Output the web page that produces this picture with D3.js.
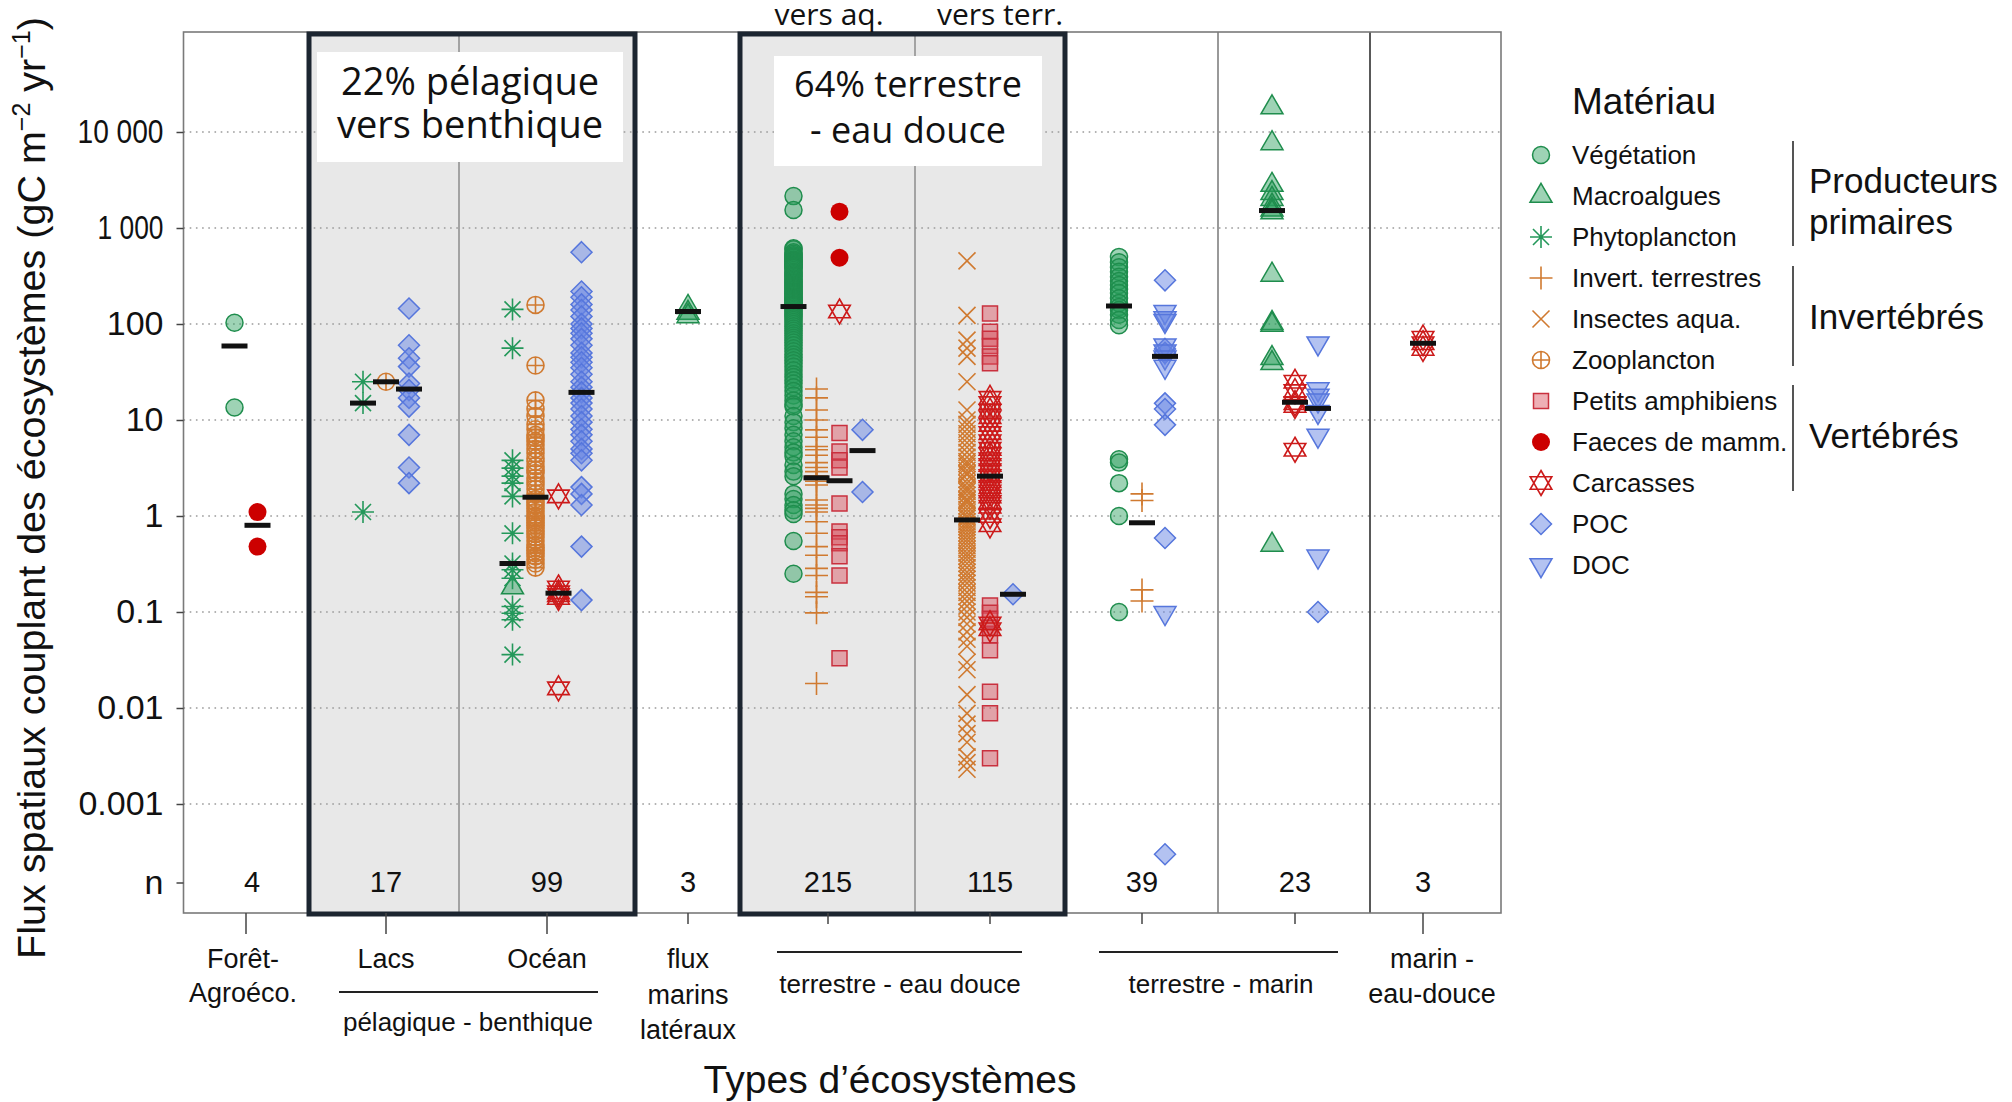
<!DOCTYPE html>
<html><head><meta charset="utf-8">
<script src="https://cdn.jsdelivr.net/npm/d3@7"></script>
<style>body{margin:0;background:#fff;} svg{display:block;}</style>
</head><body>
<svg id="chart" width="2012" height="1102"></svg>
<script>
// ---------------- DATA ----------------
const categories = ["Forêt-Agroéco.", "Lacs", "Océan", "flux marins latéraux", "vers aq.", "vers terr.", "terrestre-marin A", "terrestre-marin B", "marin - eau-douce"];
const nCounts = [4, 17, 99, 3, 215, 115, 39, 23, 3];
const yTickValues = [10000, 1000, 100, 10, 1, 0.1, 0.01, 0.001];
const yTickLabels = ["10 000", "1 000", "100", "10", "1", "0.1", "0.01", "0.001"];

// values per category (same order as categories)
const vegetation = [
  [103, 13.5], [], [], [],
  [2150, 1540, 615, 600, 560, 540, 520, 505, 490, 470, 460, 450, 440, 430, 420, 410, 402, 395, 388, 380, 365, 350, 340, 330, 320, 310, 300, 290, 280, 272, 265, 258, 250, 244, 238, 232, 226, 220, 215, 210, 205, 200, 195, 190, 186, 182, 178, 174, 170, 166, 162, 158, 155,
   150, 145, 140, 135, 130, 125, 120, 115, 110, 105, 100, 95, 90, 85, 80, 76, 72, 68, 64, 60, 56, 52, 48, 45, 42, 39, 36, 33, 30, 28, 26, 24, 22, 20, 18, 16, 14.5, 13.8, 11, 9.5, 8.2, 7, 6, 5.2, 4.6, 4.2, 3.4, 2.9, 2.6, 1.7, 1.5, 1.3, 1.15, 1.05, 0.55, 0.25],
  [],
  [500, 440, 390, 350, 310, 280, 255, 230, 210, 185, 165, 150, 140, 125, 110, 97, 3.9, 3.6, 2.2, 1.0, 0.1],
  [], []
];
const macroalgues = [
  [], [], [0.18], [150, 130, 120], [], [], [],
  [18000, 7600, 2800, 2300, 2000, 1700, 1550, 1450, 325, 102, 98, 44, 39, 0.5],
  []
];
const phytoplancton = [
  [], [25, 15, 1.1],
  [142, 56, 3.8, 3.15, 2.6, 2.2, 1.6, 0.66, 0.32, 0.275, 0.225, 0.114, 0.097, 0.083, 0.036],
  [], [], [], [], [], []
];
const invertTerrestres = [
  [], [], [], [],
  [21, 17, 12.7, 10, 7.9, 6.6, 5.3, 4.9, 4.3, 3.6, 3.2, 2.9, 2.6, 2.5, 2.3, 2.1, 1.47, 1.3, 1.2, 1.1, 0.87, 0.66, 0.48, 0.39, 0.285, 0.24, 0.16, 0.144, 0.098, 0.018],
  [], [1.7, 1.45, 0.17, 0.13], [], []
];
const insectesAqua = [
  [], [], [], [], [],
  [455, 123, 68, 56, 46, 25, 12.7, 10, 9, 8, 7.2, 6.5, 5.8, 5.2, 4.6, 4.1, 3.7, 3.5, 3.3, 3.0, 2.8, 2.7, 2.4, 2.2, 2.0, 1.9, 1.8, 1.65, 1.5, 1.45, 1.38, 1.27, 1.17, 1.08, 1.0, 0.95,
   0.87, 0.82, 0.77, 0.72, 0.67, 0.62, 0.57, 0.53, 0.49, 0.45, 0.41, 0.38, 0.35, 0.32, 0.29, 0.26, 0.24, 0.22, 0.2, 0.18, 0.16, 0.145, 0.13, 0.115, 0.1, 0.088, 0.075, 0.062, 0.052, 0.044, 0.030, 0.025, 0.0138, 0.0088, 0.0068, 0.0054, 0.0044, 0.0031, 0.0027, 0.0023],
  [], [], []
];
const zooplancton = [
  [], [25],
  [158, 37, 16, 13, 11, 9, 8, 7, 6.5, 6, 5.5, 5, 4.5, 4, 3.7, 3.3, 3, 2.8, 2.5, 2.3, 2.1, 1.9, 1.7, 1.5, 1.4, 1.3, 1.2, 1.1, 1.0, 0.95, 0.9, 0.85, 0.8, 0.75, 0.7, 0.65, 0.6, 0.55, 0.5, 0.47, 0.44, 0.41, 0.38, 0.35, 0.32, 0.29],
  [], [], [], [], [], []
];
const petitsAmphibiens = [
  [], [], [], [],
  [7.3, 4.7, 3.8, 3.2, 1.35, 0.69, 0.6, 0.52, 0.38, 0.24, 0.033],
  [129, 83, 70, 59, 46, 39, 0.117, 0.098, 0.085, 0.068, 0.057, 0.040, 0.0148, 0.0088, 0.003],
  [], [], []
];
const faeces = [
  [1.1, 0.48], [], [], [], [1480, 490], [], [], [], []
];
const carcasses = [
  [], [], [1.6, 0.18, 0.16, 0.15, 0.14, 0.016], [], [135],
  [17, 15, 12.5, 10.7, 8.9, 7.3, 6, 5, 4.4, 3.9, 3.4, 3.0, 2.6, 2.3, 2.0, 1.8, 1.6, 1.4, 1.25, 1.0, 0.8, 0.076, 0.066],
  [], [25, 20, 15, 14, 4.9], [72, 63, 55]
];
const poc = [
  [], [145, 60, 44, 36, 24, 20.5, 17, 13.8, 7, 3.2, 2.2],
  [560, 218, 190, 160, 140, 120, 100, 90, 80, 70, 60, 50, 45, 40, 35, 30, 25, 22, 19.4, 17, 15, 13, 11, 9.5, 8, 7, 6, 5, 4.5, 3.8, 2.0, 1.7, 1.3, 0.48, 0.133],
  [], [7.9, 1.78], [0.153],
  [285, 55, 50, 14.9, 13, 8.9, 0.59, 0.0003],
  [0.1], []
];
const doc = [
  [], [], [], [], [], [],
  [134, 115, 108, 60, 52, 45, 36, 0.098],
  [63, 21, 18, 16, 12.2, 6.9, 0.38], []
];
// medians per category: [producteurs, invertébrés, vertébrés, carbone (POC/DOC)]
const medians = [
  [59, null, 0.8, null],
  [15, 25, null, 21],
  [0.32, 1.57, 0.157, 19.4],
  [135, null, null, null],
  [152, 2.5, 2.33, 4.8],
  [null, 0.91, 2.6, 0.153],
  [154, 0.85, null, 46],
  [1520, null, 15.3, 13.2],
  [null, null, 63, null]
];

// ---------------- LAYOUT ----------------
const svg = d3.select("#chart");
const W = 2012, H = 1102;
const plot = {left: 183.5, right: 1501, top: 32, bottom: 913};
const colEdges = [183.5, 309, 459, 635, 740, 915, 1065, 1218, 1370, 1501];
const catCenters = [246, 386, 547, 688, 828, 990, 1142, 1295, 1423];
const nLabelShift = [6, 0, 0, 0, 0, 0, 0, 0, 0];
const sans = "'Liberation Sans', Arial, Helvetica, sans-serif";
const open = "'Open Sans', 'Noto Sans', sans-serif";

const x = d3.scaleOrdinal().domain(categories).range(catCenters);
const y = d3.scaleLog().domain([1e-3, 1e4]).range([804, 132]);
const slotGap = 23;

const GREEN = "#1f8d4d", GREEN_FILL = "rgba(40,158,92,0.45)";
const ORANGE = "#d07a30";
const RED_SQ = "#c9303e", RED_SQ_FILL = "rgba(218,78,92,0.45)";
const RED = "#cc0000", RED_C = "#cc1a1a";
const BLUE = "#5676dc", BLUE_FILL = "rgba(104,134,228,0.5)";

// symbol path generators
const sym = {
  circle: r => `M${r},0A${r},${r} 0 1,1 ${-r},0A${r},${r} 0 1,1 ${r},0Z`,
  triUp: () => "M0,-12.7L11,6.3L-11,6.3Z",
  triDown: () => "M0,12.7L11,-6.3L-11,-6.3Z",
  diamond: () => "M0,-10.5L10.5,0L0,10.5L-10.5,0Z",
  square: () => "M-7.5,-7.5H7.5V7.5H-7.5Z",
  asterisk: () => "M-11,0H11M0,-11V11M-8,-8L8,8M-8,8L8,-8",
  plus: () => "M-11.5,0H11.5M0,-11.5V11.5",
  times: () => "M-8.5,-8.5L8.5,8.5M-8.5,8.5L8.5,-8.5",
  oplus: () => "M8.5,0A8.5,8.5 0 1,1 -8.5,0A8.5,8.5 0 1,1 8.5,0ZM-8.5,0H8.5M0,-8.5V8.5",
  hexagram: () => "M0,-12.5L10.8,6.25L-10.8,6.25ZM0,12.5L10.8,-6.25L-10.8,-6.25Z"
};

const materials = [
  {label: "Végétation", group: 0, values: vegetation, d: sym.circle(8.5), fill: GREEN_FILL, stroke: GREEN, sw: 1.5},
  {label: "Macroalgues", group: 0, values: macroalgues, d: sym.triUp(), fill: GREEN_FILL, stroke: GREEN, sw: 1.5},
  {label: "Phytoplancton", group: 0, values: phytoplancton, d: sym.asterisk(), fill: "none", stroke: "#24985a", sw: 1.6},
  {label: "Invert. terrestres", group: 1, values: invertTerrestres, d: sym.plus(), fill: "none", stroke: ORANGE, sw: 1.6},
  {label: "Insectes aqua.", group: 1, values: insectesAqua, d: sym.times(), fill: "none", stroke: ORANGE, sw: 1.6},
  {label: "Zooplancton", group: 1, values: zooplancton, d: sym.oplus(), fill: "none", stroke: ORANGE, sw: 1.6},
  {label: "Petits amphibiens", group: 2, values: petitsAmphibiens, d: sym.square(), fill: RED_SQ_FILL, stroke: RED_SQ, sw: 1.5},
  {label: "Faeces de mamm.", group: 2, values: faeces, d: sym.circle(9), fill: RED, stroke: "none", sw: 0},
  {label: "Carcasses", group: 2, values: carcasses, d: sym.hexagram(), fill: "none", stroke: RED_C, sw: 1.6},
  {label: "POC", group: 3, values: poc, d: sym.diamond(), fill: BLUE_FILL, stroke: BLUE, sw: 1.5},
  {label: "DOC", group: 3, values: doc, d: sym.triDown(), fill: BLUE_FILL, stroke: BLUE, sw: 1.5}
];

// groups present in each category (for horizontal dodge)
const groupsPresent = categories.map((c, ci) => {
  const s = new Set();
  materials.forEach(m => { if (m.values[ci].length) s.add(m.group); });
  medians[ci].forEach((v, g) => { if (v != null) s.add(g); });
  return Array.from(s).sort();
});
function xPos(ci, g) {
  const gs = groupsPresent[ci];
  const k = gs.length, idx = gs.indexOf(g);
  return x(categories[ci]) + (idx - (k - 1) / 2) * slotGap;
}

// multi-line text helper (one text element, tspans)
function multiText(parent, xx, baselines, lines, font, size, anchor) {
  const t = parent.append("text").attr("text-anchor", anchor || "middle")
    .attr("font-family", font).attr("font-size", size).attr("fill", "#111");
  lines.forEach((s, i) => t.append("tspan").attr("x", xx).attr("y", baselines[i]).text(s));
  return t;
}

// ---------------- BACKGROUND ----------------
svg.append("rect").attr("x", 0).attr("y", 0).attr("width", W).attr("height", H).attr("fill", "#fff");

const boxes = [[colEdges[1], colEdges[3]], [colEdges[4], colEdges[6]]];
svg.selectAll("rect.boxfill").data(boxes).join("rect")
  .attr("x", d => d[0]).attr("y", plot.top + 2).attr("width", d => d[1] - d[0])
  .attr("height", plot.bottom - plot.top - 2).attr("fill", "#e8e8e8");

// gridlines
svg.append("g").selectAll("line").data(yTickValues).join("line")
  .attr("x1", plot.left).attr("x2", plot.right)
  .attr("y1", d => y(d)).attr("y2", d => y(d))
  .attr("stroke", "#9a9a9a").attr("stroke-width", 1.6).attr("stroke-dasharray", "1.6,4.6");

// column dividers
const dividers = [
  {x: colEdges[2], c: "#8c8c8c", w: 1.5},
  {x: colEdges[5], c: "#8c8c8c", w: 1.5},
  {x: colEdges[7], c: "#777", w: 1.5},
  {x: colEdges[8], c: "#222", w: 1.5}
];
svg.selectAll("line.div").data(dividers).join("line")
  .attr("x1", d => d.x).attr("x2", d => d.x).attr("y1", plot.top).attr("y2", plot.bottom)
  .attr("stroke", d => d.c).attr("stroke-width", d => d.w);

// text boxes
const labelBoxes = [
  {x: 317, y: 52, w: 306, h: 110, fs: 38, lines: ["22% pélagique", "vers benthique"], b: [95, 138]},
  {x: 774, y: 56, w: 268, h: 110, fs: 36, lines: ["64% terrestre", "- eau douce"], b: [97, 143]}
];
labelBoxes.forEach(bx => {
  svg.append("rect").attr("x", bx.x).attr("y", bx.y).attr("width", bx.w).attr("height", bx.h).attr("fill", "#fff");
  multiText(svg, bx.x + bx.w / 2, bx.b, bx.lines, open, bx.fs);
});

// ---------------- POINTS ----------------
const pts = [];
materials.forEach(m => m.values.forEach((arr, ci) => arr.forEach(v => pts.push({m, ci, v}))));
svg.append("g").selectAll("path").data(pts).join("path")
  .attr("transform", d => `translate(${xPos(d.ci, d.m.group)},${y(d.v)})`)
  .attr("d", d => d.m.d).attr("fill", d => d.m.fill).attr("stroke", d => d.m.stroke)
  .attr("stroke-width", d => d.m.sw);

// medians
const medRows = [];
medians.forEach((row, ci) => row.forEach((v, g) => { if (v != null) medRows.push({ci, g, v}); }));
svg.append("g").selectAll("line").data(medRows).join("line")
  .attr("x1", d => xPos(d.ci, d.g) - 13).attr("x2", d => xPos(d.ci, d.g) + 13)
  .attr("y1", d => y(d.v)).attr("y2", d => y(d.v))
  .attr("stroke", "#111").attr("stroke-width", 5);

// n counts
svg.append("g").selectAll("text").data(nCounts).join("text")
  .attr("x", (d, i) => x(categories[i]) + nLabelShift[i]).attr("y", 892).attr("text-anchor", "middle")
  .attr("font-family", sans).attr("font-size", 29).attr("fill", "#111").text(d => d);

// ---------------- FRAME ----------------
svg.append("rect").attr("x", plot.left).attr("y", plot.top).attr("width", plot.right - plot.left)
  .attr("height", plot.bottom - plot.top).attr("fill", "none").attr("stroke", "#7a7a7a").attr("stroke-width", 1.6);
svg.selectAll("rect.box").data(boxes).join("rect")
  .attr("x", d => d[0]).attr("y", plot.top + 2).attr("width", d => d[1] - d[0])
  .attr("height", plot.bottom - plot.top - 1).attr("fill", "none")
  .attr("stroke", "#1c2530").attr("stroke-width", 5);

// y axis
const yAxis = d3.axisLeft(y).tickValues(yTickValues).tickFormat((d, i) => yTickLabels[i])
  .tickSize(7).tickPadding(13);
const gy = svg.append("g").attr("transform", `translate(${plot.left},0)`).call(yAxis);
gy.select(".domain").remove();
gy.selectAll("line").attr("stroke", "#444").attr("stroke-width", 1.5);
gy.selectAll("text").attr("font-family", sans).attr("font-size", 34).attr("fill", "#111");
// the two thousands labels are set in narrower figures in the reference
const narrowWidths = {"10 000": 86, "1 000": 66};
gy.selectAll("text").each(function(d, i) {
  const w = narrowWidths[yTickLabels[i]];
  if (w) d3.select(this).attr("textLength", w).attr("lengthAdjust", "spacingAndGlyphs");
});
// n row tick
svg.append("line").attr("x1", plot.left - 7).attr("x2", plot.left).attr("y1", 883).attr("y2", 883)
  .attr("stroke", "#444").attr("stroke-width", 1.5);
svg.append("text").attr("x", plot.left - 20).attr("y", 883).attr("dy", "0.32em").attr("text-anchor", "end")
  .attr("font-family", sans).attr("font-size", 34).attr("fill", "#111").text("n");

// y title
const yt = svg.append("text").attr("transform", "translate(45,488) rotate(-90)").attr("text-anchor", "middle")
  .attr("font-family", sans).attr("font-size", 39.5).attr("fill", "#111");
yt.append("tspan").text("Flux spatiaux couplant des écosystèmes (gC m");
yt.append("tspan").attr("font-size", 25).attr("dy", -15).text("−2");
yt.append("tspan").attr("dy", 15).text(" yr");
yt.append("tspan").attr("font-size", 25).attr("dy", -15).text("−1");
yt.append("tspan").attr("dy", 15).text(")");

// x ticks
const longTick = [true, true, true, false, false, false, false, false, true];
svg.append("g").selectAll("line").data(categories).join("line")
  .attr("x1", d => x(d)).attr("x2", d => x(d)).attr("y1", plot.bottom)
  .attr("y2", (d, i) => plot.bottom + (longTick[i] ? 21 : 11))
  .attr("stroke", "#444").attr("stroke-width", 1.5);

// x labels
const xLabels = [
  {ci: 0, dx: -3, lines: ["Forêt-", "Agroéco."], b: [968, 1002]},
  {ci: 1, dx: 0, lines: ["Lacs"], b: [968]},
  {ci: 2, dx: 0, lines: ["Océan"], b: [968]},
  {ci: 3, dx: 0, lines: ["flux", "marins", "latéraux"], b: [968, 1004, 1039]},
  {ci: 8, dx: 9, lines: ["marin -", "eau-douce"], b: [968, 1003]}
];
xLabels.forEach(l => multiText(svg, x(categories[l.ci]) + l.dx, l.b, l.lines, sans, 27));
const groupLabels = [
  {x1: 339, x2: 598, ly: 992, text: "pélagique - benthique", tx: 468, ty: 1031},
  {x1: 777, x2: 1022, ly: 952, text: "terrestre - eau douce", tx: 900, ty: 993},
  {x1: 1099, x2: 1338, ly: 952, text: "terrestre - marin", tx: 1221, ty: 993}
];
groupLabels.forEach(g => {
  svg.append("line").attr("x1", g.x1).attr("x2", g.x2).attr("y1", g.ly).attr("y2", g.ly)
    .attr("stroke", "#222").attr("stroke-width", 2);
  svg.append("text").attr("x", g.tx).attr("y", g.ty).attr("text-anchor", "middle")
    .attr("font-family", sans).attr("font-size", 26).attr("fill", "#111").text(g.text);
});
svg.append("text").attr("x", 890).attr("y", 1093).attr("text-anchor", "middle")
  .attr("font-family", sans).attr("font-size", 39).attr("fill", "#111").text("Types d’écosystèmes");

// top labels
[["vers aq.", 829], ["vers terr.", 1000]].forEach(([t, xx]) => {
  svg.append("text").attr("x", xx).attr("y", 25).attr("text-anchor", "middle")
    .attr("font-family", open).attr("font-size", 30).attr("fill", "#111").text(t);
});

// ---------------- LEGEND ----------------
const lg = svg.append("g");
lg.append("text").attr("x", 1572).attr("y", 114).attr("font-family", sans).attr("font-size", 37)
  .attr("fill", "#111").text("Matériau");
const rows = lg.selectAll("g.row").data(materials).join("g")
  .attr("transform", (d, i) => `translate(0,${155 + i * 41})`);
rows.append("path").attr("transform", "translate(1541,0)").attr("d", d => d.d)
  .attr("fill", d => d.fill).attr("stroke", d => d.stroke).attr("stroke-width", d => d.sw);
rows.append("text").attr("x", 1572).attr("dy", "0.35em").attr("font-family", sans).attr("font-size", 26)
  .attr("fill", "#111").text(d => d.label);
const brackets = [[141, 246], [266, 366], [385, 491]];
lg.selectAll("line.br").data(brackets).join("line")
  .attr("x1", 1793).attr("x2", 1793).attr("y1", d => d[0]).attr("y2", d => d[1])
  .attr("stroke", "#555").attr("stroke-width", 2);
multiText(lg, 1809, [193, 234], ["Producteurs", "primaires"], sans, 35, "start");
multiText(lg, 1809, [329], ["Invertébrés"], sans, 35, "start");
multiText(lg, 1809, [448], ["Vertébrés"], sans, 35, "start");
</script>
</body></html>
